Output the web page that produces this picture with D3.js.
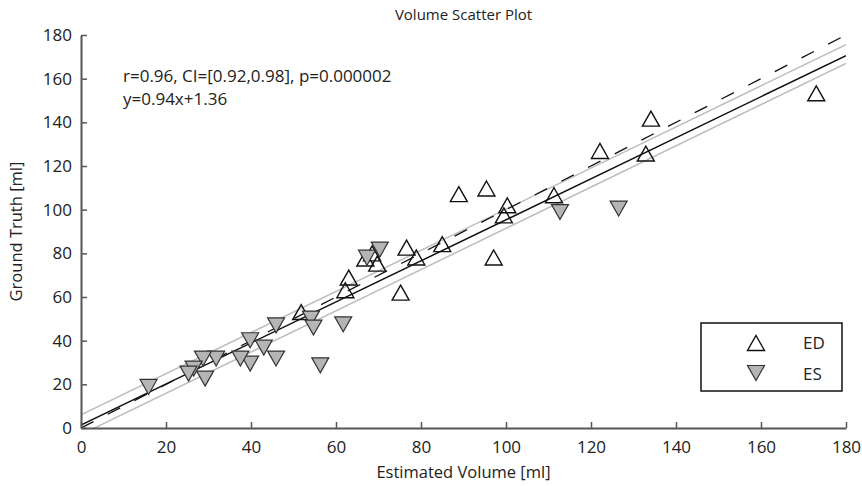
<!DOCTYPE html>
<html>
<head>
<meta charset="utf-8">
<script src="https://cdn.jsdelivr.net/npm/d3@7/dist/d3.min.js"></script>
<style>
  body { margin: 0; background: #fff; }
  svg text { font-family: "Open Sans", sans-serif; fill: #222; }
</style>
</head>
<body>
<div id="chart-area"></div>
<script>
// ED points (estimated, ground truth)
const edX = [173, 134.1, 122.1, 132.9, 111.3, 100.3, 99.5, 88.9, 95.4, 97.1, 85.0, 76.6, 78.9, 75.2, 66.9, 69.7, 68.5, 63.0, 62.2, 51.8];
const edY = [153.3, 141.7, 126.9, 125.7, 106.6, 102.0, 97.4, 107.1, 109.7, 78.1, 84.2, 82.6, 78.1, 62.0, 77.6, 75.3, 80.0, 68.9, 63.1, 53.1];

// ES points
const esX = [126.5, 112.7, 70.3, 67.3, 61.7, 56.3, 54.1, 54.7, 45.9, 45.9, 43.0, 39.8, 39.8, 37.5, 31.8, 28.7, 29.2, 26.5, 25.3, 15.9];
const esY = [100.5, 98.9, 81.7, 78.0, 47.5, 28.7, 50.1, 46.0, 47.0, 31.8, 36.8, 40.2, 29.5, 31.8, 31.8, 31.8, 22.6, 27.2, 24.9, 18.8];

// fitted lines [x, y] endpoints
const fitLine = [[0, 1.36], [180, 0.94 * 180 + 1.36]];
const identityLine = [[0, 0], [180, 180]];
const ciUpper = [[0, 6.0], [180, 175.6]];
const ciLower = [[0, -3.0], [180, 167.0]];

const xTicks = [0, 20, 40, 60, 80, 100, 120, 140, 160, 180];
const yTicks = [0, 20, 40, 60, 80, 100, 120, 140, 160, 180];

const statsText = ["r=0.96, CI=[0.92,0.98], p=0.000002", "y=0.94x+1.36"];

//set margins
let margin = {left: 81, top: 35, right: 16, bottom: 58};
let width = 862 - margin.left - margin.right,
    height = 486 - margin.top - margin.bottom;

let svg = d3.select("#chart-area")
  .append("svg")
  .attr("width", 862)
  .attr("height", 486);

let group = svg.append("g")
  .attr("transform", "translate(" + margin.left + ", " + margin.top + ")");

let x = d3.scaleLinear().domain([0, 180]).range([0, width]);
let y = d3.scaleLinear().domain([0, 180]).range([height, 0]);

// clip for lines
svg.append("defs").append("clipPath").attr("id", "clip")
  .append("rect").attr("width", width).attr("height", height);

let line = d3.line().x(d => x(d[0])).y(d => y(d[1]));
let lines = group.append("g").attr("clip-path", "url(#clip)");

lines.append("path").datum(ciUpper).attr("d", line)
  .attr("fill", "none").attr("stroke", "#bdbdbd").attr("stroke-width", 1.5);
lines.append("path").datum(ciLower).attr("d", line)
  .attr("fill", "none").attr("stroke", "#bdbdbd").attr("stroke-width", 1.5);
lines.append("path").datum(identityLine).attr("d", line)
  .attr("fill", "none").attr("stroke", "#111").attr("stroke-width", 1.3)
  .attr("stroke-dasharray", "14,16");
lines.append("path").datum(fitLine).attr("d", line)
  .attr("fill", "none").attr("stroke", "#111").attr("stroke-width", 1.5);

// axes
let xAxisCall = d3.axisBottom(x).tickValues(xTicks).tickSizeInner(-6).tickSizeOuter(0).tickPadding(13);
let xg = group.append("g")
  .attr("transform", "translate(0, " + height + ")")
  .call(xAxisCall);

let yAxisCall = d3.axisLeft(y).tickValues(yTicks).tickSizeInner(-6).tickSizeOuter(0).tickPadding(9);
let yg = group.append("g").call(yAxisCall);

[xg, yg].forEach(g => {
  g.select(".domain").attr("stroke", "#555").attr("stroke-width", 2);
  g.selectAll(".tick line").attr("stroke", "#555").attr("stroke-width", 1.5);
  g.selectAll(".tick text").attr("font-size", "17px").attr("fill", "#222")
    .attr("font-family", "Open Sans, sans-serif");
});

// markers
const up = "M0,-7.5L8.5,7.5L-8.5,7.5Z";
const down = "M0,7.5L8.5,-7.5L-8.5,-7.5Z";

let edData = edX.map((v, i) => ({x: v, y: edY[i]}));
let esData = esX.map((v, i) => ({x: v, y: esY[i]}));

group.selectAll(".ed").data(edData).enter().append("path")
  .attr("class", "ed")
  .attr("d", up)
  .attr("transform", d => "translate(" + x(d.x) + "," + y(d.y) + ")")
  .attr("fill", "none").attr("stroke", "#111").attr("stroke-width", 1.4);

group.selectAll(".es").data(esData).enter().append("path")
  .attr("class", "es")
  .attr("d", down)
  .attr("transform", d => "translate(" + x(d.x) + "," + y(d.y) + ")")
  .attr("fill", "#b5b5b5").attr("stroke", "#333").attr("stroke-width", 1.2);

// stats text
group.selectAll(".stat").data(statsText).enter().append("text")
  .attr("x", 42)
  .attr("y", (d, i) => 47 + i * 23)
  .attr("font-size", "17px")
  .text(d => d);

// legend
let legend = svg.append("g");
legend.append("rect")
  .attr("x", 701).attr("y", 323).attr("width", 141).attr("height", 68)
  .attr("fill", "#fff").attr("stroke", "#111").attr("stroke-width", 1.5);
legend.append("path").attr("d", up).attr("transform", "translate(756,343)")
  .attr("fill", "none").attr("stroke", "#111").attr("stroke-width", 1.4);
legend.append("path").attr("d", down).attr("transform", "translate(756,373)")
  .attr("fill", "#b5b5b5").attr("stroke", "#333").attr("stroke-width", 1.2);
legend.append("text").attr("x", 803).attr("y", 349).attr("font-size", "17px").text("ED");
legend.append("text").attr("x", 803).attr("y", 380).attr("font-size", "17px").text("ES");

// title
svg.append("text")
  .attr("x", margin.left + width / 2).attr("y", 20)
  .attr("text-anchor", "middle").attr("font-size", "15px")
  .text("Volume Scatter Plot");

//x label
svg.append("text")
  .attr("x", margin.left + width / 2).attr("y", 478)
  .attr("text-anchor", "middle").attr("font-size", "16.5px")
  .text("Estimated Volume [ml]");

//y label
svg.append("text")
  .attr("transform", "translate(22," + (margin.top + height / 2) + ") rotate(-90)")
  .attr("text-anchor", "middle").attr("font-size", "16.5px")
  .text("Ground Truth [ml]");
</script>
</body>
</html>
